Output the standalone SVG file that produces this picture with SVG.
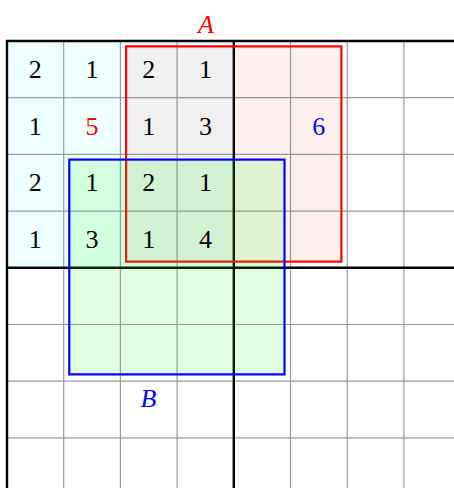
<svg xmlns="http://www.w3.org/2000/svg" width="454" height="488" viewBox="0 0 454 488">
<style>
.thin{stroke:#9a9a9a;stroke-width:1.2;fill:none}
.thick{stroke:#000;stroke-width:2.4;fill:none}
.num{font-family:"Liberation Serif",serif;font-size:26px;text-anchor:middle;fill:#000}
.lab{font-family:"Liberation Serif",serif;font-size:26px;font-style:italic;text-anchor:middle}
</style>
<rect width="454" height="488" fill="#fff"/>
<g id="grid">
<path class="thin" d="M63.7 41V488M120.4 41V488M177.1 41V488M290.5 41V488M347.2 41V488M403.9 41V488M7 97.7H454M7 154.4H454M7 211.1H454M7 324.5H454M7 381.2H454M7 437.9H454"/>
<path class="thick" d="M7 39.8V488M233.8 41V488M5.8 41H454M7 267.8H454"/>
</g>
<g id="box">
<rect x="7" y="41" width="226.8" height="226.8" fill="#00ffff" fill-opacity="0.06"/>
</g>
<g id="A">
<rect x="126.1" y="46.4" width="215.3" height="215.2" fill="#ff0000" fill-opacity="0.06" stroke="#ff0000" stroke-width="2.2"/>
<text class="lab" x="206" y="33" fill="#ff0000">A</text>
</g>
<g id="B">
<rect x="69.3" y="159.6" width="215.2" height="214.8" fill="#00ff00" fill-opacity="0.12" stroke="#0000ff" stroke-width="2.2"/>
<text class="lab" x="148.5" y="407" fill="#0000ff">B</text>
</g>
<g id="numbers">
<text class="num" x="35.35" y="78">2</text>
<text class="num" x="92.05" y="78">1</text>
<text class="num" x="148.75" y="78">2</text>
<text class="num" x="205.45" y="78">1</text>
<text class="num" x="35.35" y="134.7">1</text>
<text class="num" x="92.05" y="134.7" style="fill:#ff0000">5</text>
<text class="num" x="148.75" y="134.7">1</text>
<text class="num" x="205.45" y="134.7">3</text>
<text class="num" x="318.85" y="134.7" style="fill:#0000ff">6</text>
<text class="num" x="35.35" y="191.4">2</text>
<text class="num" x="92.05" y="191.4">1</text>
<text class="num" x="148.75" y="191.4">2</text>
<text class="num" x="205.45" y="191.4">1</text>
<text class="num" x="35.35" y="248.1">1</text>
<text class="num" x="92.05" y="248.1">3</text>
<text class="num" x="148.75" y="248.1">1</text>
<text class="num" x="205.45" y="248.1">4</text>
</g>
</svg>
